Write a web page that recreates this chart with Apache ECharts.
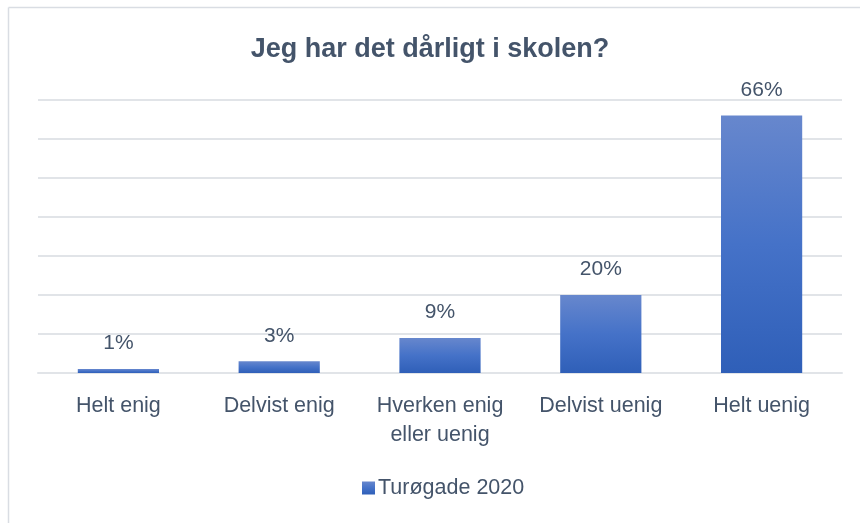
<!DOCTYPE html>
<html>
<head>
<meta charset="utf-8">
<style>
  html, body { margin: 0; padding: 0; background: #fff; }
  #chart { width: 860px; height: 523px; }
</style>
<script src="https://cdn.jsdelivr.net/npm/echarts@6/dist/echarts.min.js"></script>
</head>
<body>
<div id="chart"></div>
<script>
// Survey answers: "Jeg har det dårligt i skolen?"
const categories = ['Helt enig', 'Delvist enig', 'Hverken enig\neller uenig', 'Delvist uenig', 'Helt uenig'];
const seriesName = 'Turøgade 2020';
const values = [1, 3, 9, 20, 66];

const textColor = '#44546A';
const fontFamily = '"Liberation Sans", "Noto Sans", sans-serif';

const barGradient = new echarts.graphic.LinearGradient(0, 0, 0, 1, [
  { offset: 0, color: '#6787CD' },
  { offset: 0.5, color: '#4572C8' },
  { offset: 1, color: '#2F5FB8' }
]);

const chart = echarts.init(document.getElementById('chart'), null, { renderer: 'canvas' });
chart.setOption({
  backgroundColor: '#ffffff',
  animation: false,
  title: {
    text: 'Jeg har det dårligt i skolen?',
    left: 'center',
    top: 31,
    textStyle: { color: textColor, fontFamily, fontWeight: 'bold', fontSize: 27 }
  },
  graphic: [
    { type: 'line', silent: true, shape: { x1: 8.5, y1: 7.5, x2: 8.5, y2: 523 }, style: { stroke: '#D9DDE3', lineWidth: 1.5 } },
    { type: 'line', silent: true, shape: { x1: 8.5, y1: 7.5, x2: 860, y2: 7.5 }, style: { stroke: '#D9DDE3', lineWidth: 1.5 } }
  ],
  legend: {
    bottom: 19,
    left: 357,
    itemWidth: 13,
    itemHeight: 13,
    itemGap: 5,
    icon: 'rect',
    textStyle: { color: textColor, fontFamily, fontSize: 21.5, padding: [0, 0, 0, -2] },
    data: [seriesName]
  },
  grid: { left: 38, right: 18, top: 100, bottom: 150, containLabel: false },
  xAxis: {
    type: 'category',
    data: categories,
    axisLine: { show: true, lineStyle: { color: '#E1E4E8', width: 2 } },
    axisTick: { show: false },
    axisLabel: { color: textColor, fontFamily, fontSize: 21.5, margin: 19, lineHeight: 29, interval: 0 }
  },
  yAxis: {
    type: 'value',
    min: 0,
    max: 70,
    interval: 10,
    axisLabel: { show: false },
    axisLine: { show: false },
    axisTick: { show: false },
    splitLine: { lineStyle: { color: '#E1E4E8', width: 2 } }
  },
  series: [{
    name: seriesName,
    type: 'bar',
    data: values,
    barWidth: '50.5%',
    itemStyle: { color: barGradient },
    label: {
      show: true,
      position: 'top',
      distance: 15,
      formatter: '{c}%',
      color: textColor,
      fontFamily,
      fontSize: 21
    }
  }]
});
</script>
</body>
</html>
